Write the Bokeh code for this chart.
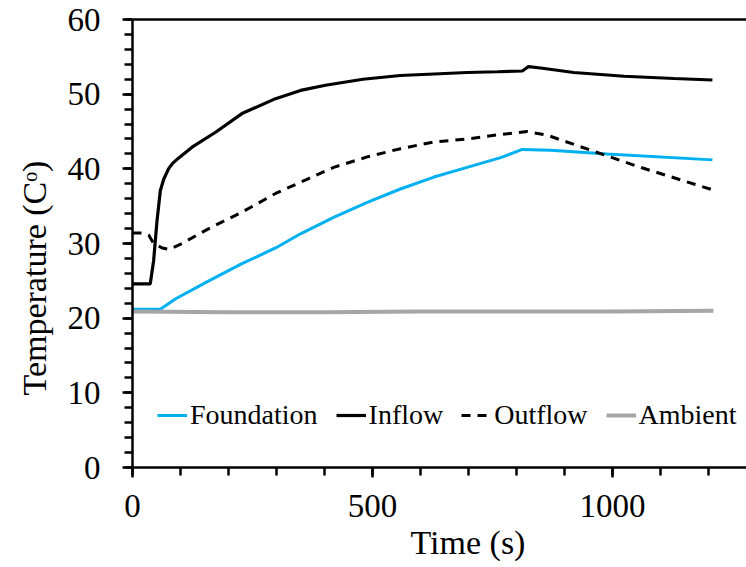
from bokeh.plotting import figure
from bokeh.models import (Range1d, FixedTicker, LinearAxis, Legend, LegendItem, Title)
from bokeh.embed import file_html
from bokeh.resources import INLINE

# ---- data ----
foundation_t = [0, 58, 90, 159, 228, 298, 350, 419, 489, 558, 628, 697, 767, 812, 871, 989, 1208]
foundation_v = [21.2, 21.2, 22.6, 25.0, 27.3, 29.4, 31.3, 33.5, 35.5, 37.3, 38.9, 40.2, 41.5, 42.6, 42.5, 42.0, 41.2]

inflow_t = [0, 37, 44, 51, 58, 65, 75, 83, 95, 124, 173, 228, 298, 350, 402, 480, 558, 628, 697, 760, 812, 825, 850, 919, 1024, 1128, 1208]
inflow_v = [24.6, 24.6, 27.7, 33.0, 37.1, 38.6, 40.0, 40.7, 41.4, 42.9, 44.9, 47.4, 49.4, 50.5, 51.2, 52.0, 52.5, 52.7, 52.9, 53.0, 53.1, 53.7, 53.5, 52.9, 52.4, 52.1, 51.9]

outflow_t = [0, 20, 34, 44, 62, 76, 103, 159, 228, 298, 367, 419, 489, 558, 628, 697, 767, 822, 864, 954, 1058, 1208]
outflow_v = [31.4, 31.4, 31.1, 30.0, 29.4, 29.2, 30.0, 32.0, 34.2, 36.7, 38.7, 40.2, 41.6, 42.7, 43.6, 44.0, 44.6, 45.0, 44.5, 42.5, 40.2, 37.2]

ambient_t = [0, 200, 400, 600, 800, 1000, 1210]
ambient_v = [20.9, 20.8, 20.8, 20.9, 20.9, 20.9, 21.0]

x_major = [0, 500, 1000]
x_minor = list(range(0, 1301, 100))
y_major = list(range(0, 61, 10))
y_minor = list(range(0, 61, 2))

FONT = "Liberation Serif"

p = figure(width=746, height=567, output_backend="svg", toolbar_location=None,
           x_range=Range1d(0, 1279), y_range=Range1d(0, 60),
           min_border_left=132, min_border_right=0, min_border_top=19, min_border_bottom=100)
p.grid.visible = False
p.outline_line_color = None

for ax, maj, mnr in ((p.xaxis[0], x_major, x_minor), (p.yaxis[0], y_major, y_minor)):
    ax.ticker = FixedTicker(ticks=maj, minor_ticks=mnr)
    ax.axis_line_width = 2.5
    ax.major_tick_line_width = 2.5
    ax.minor_tick_line_width = 2.5
    ax.major_tick_in = 0
    ax.minor_tick_in = 0
    ax.major_tick_out = 10
    ax.minor_tick_out = 8
    ax.major_label_text_font = FONT
    ax.major_label_text_font_size = "33px"
    ax.major_label_text_color = "black"
p.xaxis[0].major_label_standoff = 17
p.yaxis[0].major_label_standoff = 22

top = LinearAxis(axis_line_width=2.5, major_tick_out=0, major_tick_in=0, minor_tick_out=0,
                 minor_tick_in=0, major_label_text_font_size="0px", ticker=FixedTicker(ticks=[]))
p.add_layout(top, "above")

r_f = p.line(foundation_t, foundation_v, line_color="#00B0F0", line_width=3)
r_i = p.line(inflow_t, inflow_v, line_color="black", line_width=3.2)
r_o = p.line(outflow_t, outflow_v, line_color="black", line_width=3, line_dash="9 7")
r_a = p.line(ambient_t, ambient_v, line_color="#A6A6A6", line_width=4)

legend = Legend(items=[LegendItem(label="Foundation", renderers=[r_f]),
                       LegendItem(label="Inflow", renderers=[r_i]),
                       LegendItem(label="Outflow", renderers=[r_o]),
                       LegendItem(label="Ambient", renderers=[r_a])],
                orientation="horizontal", location=(25, 36), padding=0, margin=0,
                spacing=18, label_standoff=3, glyph_width=30, glyph_height=30,
                label_height=30, label_text_font=FONT, label_text_font_size="28px",
                label_text_color="black",
                border_line_alpha=0, background_fill_alpha=0)
p.add_layout(legend, "center")

p.add_layout(Title(text="Time (s)", align="left", offset=278, standoff=4,
                   text_font=FONT, text_font_size="34px", text_font_style="normal",
                   text_color="black"), "below")
p.add_layout(Title(text="Temperature (Cᵒ)", align="left", offset=72, standoff=24,
                   text_font=FONT, text_font_size="34px", text_font_style="normal",
                   text_color="black"), "left")

open("out.html", "w").write(file_html(p, INLINE))
